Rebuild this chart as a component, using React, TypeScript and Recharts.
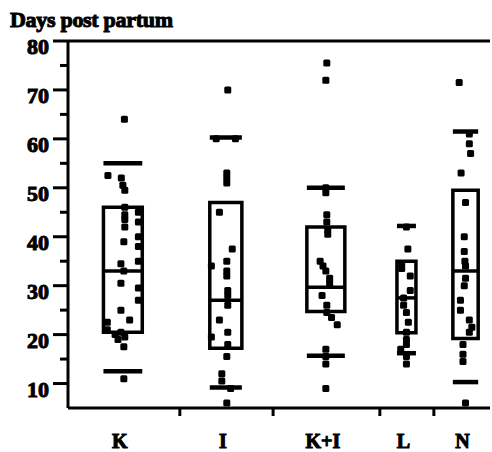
import React from 'react'
import { ComposedChart, Scatter, XAxis, YAxis, ReferenceArea, ReferenceLine } from 'recharts'

// groups and their values (days post partum)
const groups = ['K', 'I', 'K+I', 'L', 'N']

const kValues = [64, 52.5, 52, 50.5, 49.5, 46, 45, 44.5, 43.5, 43, 42, 40, 39, 38, 35, 34.5, 33, 30.5, 29.5, 27, 25, 23, 22.5, 21, 20.5, 20, 19.5, 19, 17.5, 11]
const iValues = [70, 60, 60, 53, 52, 51, 45, 37.5, 35, 34, 33, 32, 29, 28, 26, 23, 20.5, 19.5, 18, 15.5, 12, 10.5, 9, 6]
const kiValues = [75.5, 72, 50, 49, 44.5, 43, 41.5, 40.5, 35, 34, 33, 31.5, 30.5, 28, 26, 24.5, 23.5, 22, 17, 15.5, 14, 9]
const lValues = [42, 37.5, 34.5, 33.5, 32, 29, 27.5, 26, 24.5, 22.5, 20.5, 19, 18, 17, 15.5, 14]
const nValues = [71.5, 61, 59, 57, 53, 47, 40, 37, 35, 34, 31.5, 30, 27, 25, 23, 21.5, 20.5, 18, 16, 14.5, 6]

// box stats: lower whisker, q1, median, q3, upper whisker
const whiskerLow = [12.5, 9.2, 15.7, 16.2, 10.3]
const q1 = [20.5, 17.2, 24.7, 20.4, 19.2]
const median = [33, 27, 29.7, 27.5, 33]
const q3 = [46, 47, 42, 35, 49.5]
const whiskerHigh = [55, 60.3, 50, 42.2, 61.5]

const yTicks = [10, 15, 20, 25, 30, 35, 40, 45, 50, 55, 60, 65, 70, 75, 80]

// layout (x units, domain 0..100)
const centers = [13.0, 37.4, 61.1, 80.2, 94.2]
const halfWidths = [4.6, 3.8, 4.5, 2.25, 3.0]
const separators = [26.5, 48.6, 73.9, 86.7]
// horizontal jitter of the dots, as a fraction of the box half width
const jitter = [
  [0.08, -0.77, -0.08, 0, 0.1, 0.1, 0.8, 0.1, 0.1, 0.8, 0.1, 0.8, 0.05, 0.8, 0.8, -0.1, 0.05, -0.1, 0.8, 0.8, -0.1, 0.35, -0.8, -0.8, -0.1, -0.4, 0.1, -0.25, 0.05, 0.05],
  [0.12, -0.6, 0.6, 0.06, 0.06, 0.06, -0.4, 0.4, 0.06, -0.9, 0.06, 0.06, 0.12, 0.12, 0.12, -0.4, 0.12, -0.9, 0.12, 0.06, -0.25, -0.25, 0.3, 0.06],
  [0.05, 0, 0, 0, 0.05, 0.05, 0.1, 0.1, -0.3, -0.15, 0, 0.2, 0.2, -0.2, 0.05, 0.05, 0.3, 0.6, 0, 0, 0, 0],
  [0, 0.15, -0.5, -0.5, 0.4, 0.4, -0.3, -0.3, 0, 0.2, 0, 0, 0, -0.6, 0, 0],
  [-0.5, 0.3, 0.3, 0.4, -0.35, 0, -0.1, -0.1, -0.05, 0, 0, -0.1, -0.4, -0.4, 0.3, 0.5, 0.3, -0.2, -0.2, -0.2, 0],
]

const allValues = [kValues, iValues, kiValues, lValues, nValues]
const pointSets = allValues.map((vals, g) =>
  vals.map((v, i) => ({ x: centers[g] + (jitter[g][i] || 0) * halfWidths[g], y: v }))
)

const FONT = '"Liberation Serif", "Times New Roman", serif'

const Dot = (props: any) => {
  const { cx, cy } = props
  return <rect x={cx - 3.5} y={cy - 3.5} width={7} height={7} rx={1.5} fill="#000" />
}

const YTick = (props: any) => {
  const { x, y, payload } = props
  const major = payload.value % 10 === 0
  return (
    <g>
      <line x1={x - (major ? 15 : 8)} x2={x} y1={y} y2={y} stroke="#000" strokeWidth={3} />
      {major && (
        <text x={x - 19} y={y + 13} textAnchor="end" fontFamily={FONT} fontWeight="bold" fontSize={22} fill="#000" stroke="#000" strokeWidth={1}>
          {payload.value}
        </text>
      )}
    </g>
  )
}

const XTick = (props: any) => {
  const { x, y, payload } = props
  const idx = centers.indexOf(payload.value)
  if (idx < 0) {
    return <line x1={x} x2={x} y1={y} y2={y + 8} stroke="#000" strokeWidth={3} />
  }
  return (
    <text x={x - 3} y={y + 40} textAnchor="middle" fontFamily={FONT} fontWeight="bold" fontSize={20} fill="#000" stroke="#000" strokeWidth={1}>
      {groups[idx]}
    </text>
  )
}

export default function App() {
  return (
    <div style={{ position: 'absolute', left: 0, top: 0, width: 492, height: 452, background: '#fff' }}>
      <svg width={492} height={40} style={{ position: 'absolute', left: 0, top: 0 }}>
        <text x={10} y={27} fontFamily={FONT} fontWeight="bold" fontSize={22} fill="#000" stroke="#000" strokeWidth={1} letterSpacing={-0.3}>Days post partum</text>
      </svg>
      <ComposedChart width={492} height={452} margin={{ top: 41, right: 2, bottom: 0, left: 0 }}>
        <XAxis
          type="number"
          dataKey="x"
          domain={[0, 100]}
          ticks={[...centers, ...separators].sort((a, b) => a - b)}
          interval={0}
          height={44}
          tickSize={0}
          tickMargin={0}
          tickLine={false}
          axisLine={{ stroke: '#000', strokeWidth: 3 }}
          tick={XTick}
          allowDataOverflow
        />
        <YAxis
          type="number"
          dataKey="y"
          domain={[5, 80]}
          ticks={yTicks}
          interval={0}
          width={68}
          tickSize={0}
          tickMargin={0}
          tickLine={false}
          axisLine={{ stroke: '#000', strokeWidth: 3 }}
          tick={YTick}
          allowDataOverflow
        />
        <ReferenceLine y={80} stroke="#000" strokeWidth={3} />
        {groups.map((g, i) => (
          <ReferenceArea
            key={'box' + g}
            x1={centers[i] - halfWidths[i]}
            x2={centers[i] + halfWidths[i]}
            y1={q1[i]}
            y2={q3[i]}
            fill="none"
            fillOpacity={0}
            stroke="#000"
            strokeWidth={3.5}
            strokeOpacity={1}
          />
        ))}
        {groups.map((g, i) =>
          [median[i], whiskerLow[i], whiskerHigh[i]].map((v, j) => (
            <ReferenceLine
              key={'seg' + g + j}
              segment={[
                { x: centers[i] - halfWidths[i], y: v },
                { x: centers[i] + halfWidths[i], y: v },
              ]}
              stroke="#000"
              strokeWidth={j === 0 ? 3.5 : 4.5}
            />
          ))
        )}
        {groups.map((g, i) => (
          <Scatter key={'pts' + g} name={g} data={pointSets[i]} shape={Dot} isAnimationActive={false} />
        ))}
      </ComposedChart>
    </div>
  )
}
